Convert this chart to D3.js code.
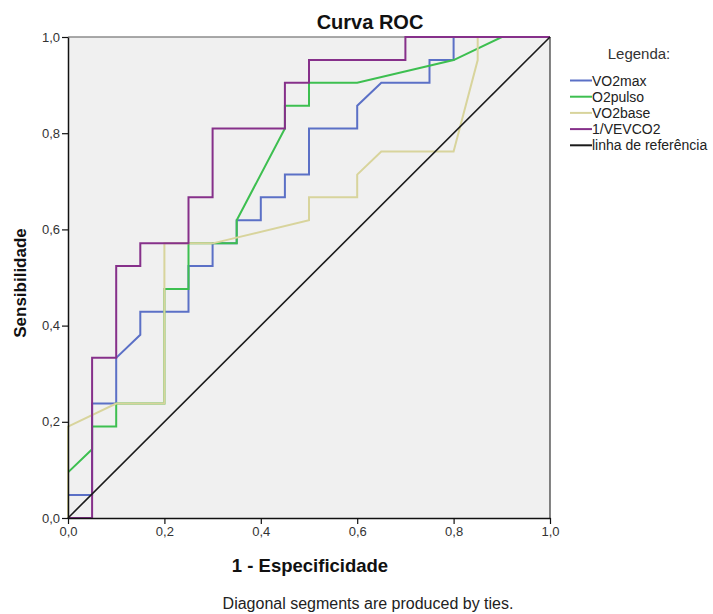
<!DOCTYPE html>
<html>
<head>
<meta charset="utf-8">
<script src="https://cdn.jsdelivr.net/npm/d3@7"></script>
<style>
  body { margin: 0; background: #fff; }
  text { font-family: "Liberation Sans", Arial, sans-serif; }
</style>
</head>
<body>
<div id="chart"></div>
<script>
// ROC points (1 - specificity, sensitivity)
var vo2maxX = [0, 0, 0.05, 0.05, 0.1, 0.1, 0.15, 0.15, 0.25, 0.25, 0.3, 0.3, 0.35, 0.35, 0.4, 0.4, 0.45, 0.45, 0.5, 0.5, 0.6, 0.6, 0.65, 0.75, 0.75, 0.8, 0.8, 1];
var vo2maxY = [0, 0.048, 0.048, 0.238, 0.238, 0.333, 0.381, 0.429, 0.429, 0.524, 0.524, 0.571, 0.571, 0.619, 0.619, 0.667, 0.667, 0.714, 0.714, 0.810, 0.810, 0.857, 0.905, 0.905, 0.952, 0.952, 1, 1];

var o2pulsoX = [0, 0, 0.05, 0.05, 0.1, 0.1, 0.2, 0.2, 0.25, 0.25, 0.35, 0.35, 0.45, 0.45, 0.5, 0.5, 0.6, 0.8, 0.9, 1];
var o2pulsoY = [0, 0.095, 0.143, 0.190, 0.190, 0.238, 0.238, 0.476, 0.476, 0.571, 0.571, 0.619, 0.810, 0.857, 0.857, 0.905, 0.905, 0.952, 1, 1];

var vo2baseX = [0, 0, 0.1, 0.2, 0.2, 0.3, 0.5, 0.5, 0.6, 0.6, 0.65, 0.8, 0.85, 0.85, 1];
var vo2baseY = [0, 0.190, 0.238, 0.238, 0.571, 0.571, 0.619, 0.667, 0.667, 0.714, 0.762, 0.762, 0.952, 1, 1];

var vevco2X = [0, 0.05, 0.05, 0.1, 0.1, 0.15, 0.15, 0.25, 0.25, 0.3, 0.3, 0.45, 0.45, 0.5, 0.5, 0.7, 0.7, 1];
var vevco2Y = [0, 0, 0.333, 0.333, 0.524, 0.524, 0.571, 0.571, 0.667, 0.667, 0.810, 0.810, 0.905, 0.905, 0.952, 0.952, 1, 1];

var refX = [0, 1];
var refY = [0, 1];

var seriesNames = ["VO2max", "O2pulso", "VO2base", "1/VEVCO2", "linha de referência"];
var seriesColors = ["#5b70c6", "#3dbf50", "#d8d49c", "#86308a", "#1a1a1a"];
var tickValues = [0, 0.2, 0.4, 0.6, 0.8, 1.0];

var series = [
    {xs: vo2maxX, ys: vo2maxY},
    {xs: o2pulsoX, ys: o2pulsoY},
    {xs: vo2baseX, ys: vo2baseY},
    {xs: vevco2X, ys: vevco2Y},
    {xs: refX, ys: refY}
];

var margin = {top: 37, right: 163, bottom: 96, left: 68},
    width = 713 - margin.left - margin.right,
    height = 614 - margin.top - margin.bottom;

var svg = d3.select("#chart")
    .append("svg")
    .attr("width", 713)
    .attr("height", 614);

var g = svg.append("g")
    .attr("transform", "translate(" + margin.left + "," + margin.top + ")");

var x = d3.scaleLinear().domain([0, 1]).range([0, width]);
var y = d3.scaleLinear().domain([0, 1]).range([height, 0]);

var fmt = function (d) { return d3.format(".1f")(d).replace(".", ","); };

// plot background
g.append("rect")
    .attr("width", width)
    .attr("height", height)
    .attr("fill", "#f0f0f0");

// frame: top grey, right dark
g.append("line")
    .attr("x1", 0).attr("x2", width).attr("y1", 0).attr("y2", 0)
    .attr("stroke", "#8c8c8c").attr("stroke-width", 1.5);
g.append("line")
    .attr("x1", width).attr("x2", width).attr("y1", 0).attr("y2", height)
    .attr("stroke", "#333").attr("stroke-width", 1.2);

// curves
var line = d3.line()
    .x(function (d) { return x(d[0]); })
    .y(function (d) { return y(d[1]); });

series.forEach(function (s, i) {
    var pts = s.xs.map(function (v, k) { return [v, s.ys[k]]; });
    g.append("path")
        .datum(pts)
        .attr("fill", "none")
        .attr("stroke", seriesColors[i])
        .attr("stroke-width", i == 4 ? 1.6 : 2)
        .attr("stroke-linejoin", "miter")
        .attr("d", line);
});

// axes
var xAxis = g.append("g")
    .attr("transform", "translate(0," + height + ")")
    .call(d3.axisBottom(x).tickValues(tickValues).tickFormat(fmt).tickSize(6).tickSizeOuter(0));
var yAxis = g.append("g")
    .call(d3.axisLeft(y).tickValues(tickValues).tickFormat(fmt).tickSize(6).tickSizeOuter(0));

[xAxis, yAxis].forEach(function (a) {
    a.select(".domain").attr("stroke", "#111").attr("stroke-width", 1.5);
    a.selectAll(".tick line").attr("stroke", "#111").attr("stroke-width", 1.2);
    a.selectAll("text")
        .attr("fill", "#333")
        .attr("font-size", "13px")
        .attr("font-family", "Liberation Sans, Arial, sans-serif");
});
yAxis.selectAll("text").attr("x", -8);

// title and axis labels
svg.append("text")
    .attr("x", 370)
    .attr("y", 29)
    .attr("text-anchor", "middle")
    .attr("font-size", "20px")
    .attr("font-weight", "bold")
    .attr("fill", "#111")
    .text("Curva ROC");

svg.append("text")
    .attr("x", 310)
    .attr("y", 572)
    .attr("text-anchor", "middle")
    .attr("font-size", "18.5px")
    .attr("font-weight", "bold")
    .attr("fill", "#111")
    .text("1 - Especificidade");

svg.append("text")
    .attr("transform", "translate(26,283) rotate(-90)")
    .attr("text-anchor", "middle")
    .attr("font-size", "17px")
    .attr("font-weight", "bold")
    .attr("fill", "#111")
    .text("Sensibilidade");

svg.append("text")
    .attr("x", 368)
    .attr("y", 609)
    .attr("text-anchor", "middle")
    .attr("font-size", "16px")
    .attr("fill", "#222")
    .text("Diagonal segments are produced by ties.");

// legend
var legend = svg.append("g").attr("transform", "translate(570,0)");
legend.append("text")
    .attr("x", 69)
    .attr("y", 59)
    .attr("text-anchor", "middle")
    .attr("font-size", "15px")
    .attr("fill", "#333")
    .text("Legenda:");

var items = legend.selectAll(".item")
    .data(seriesNames)
    .enter().append("g")
    .attr("class", "item")
    .attr("transform", function (d, i) { return "translate(0," + (80.5 + i * 16.2) + ")"; });
items.append("line")
    .attr("x1", 0).attr("x2", 22)
    .attr("stroke", function (d, i) { return seriesColors[i]; })
    .attr("stroke-width", 2);
items.append("text")
    .attr("x", 22)
    .attr("y", 5)
    .attr("font-size", "14px")
    .attr("fill", "#222")
    .text(function (d) { return d; });
</script>
</body>
</html>
